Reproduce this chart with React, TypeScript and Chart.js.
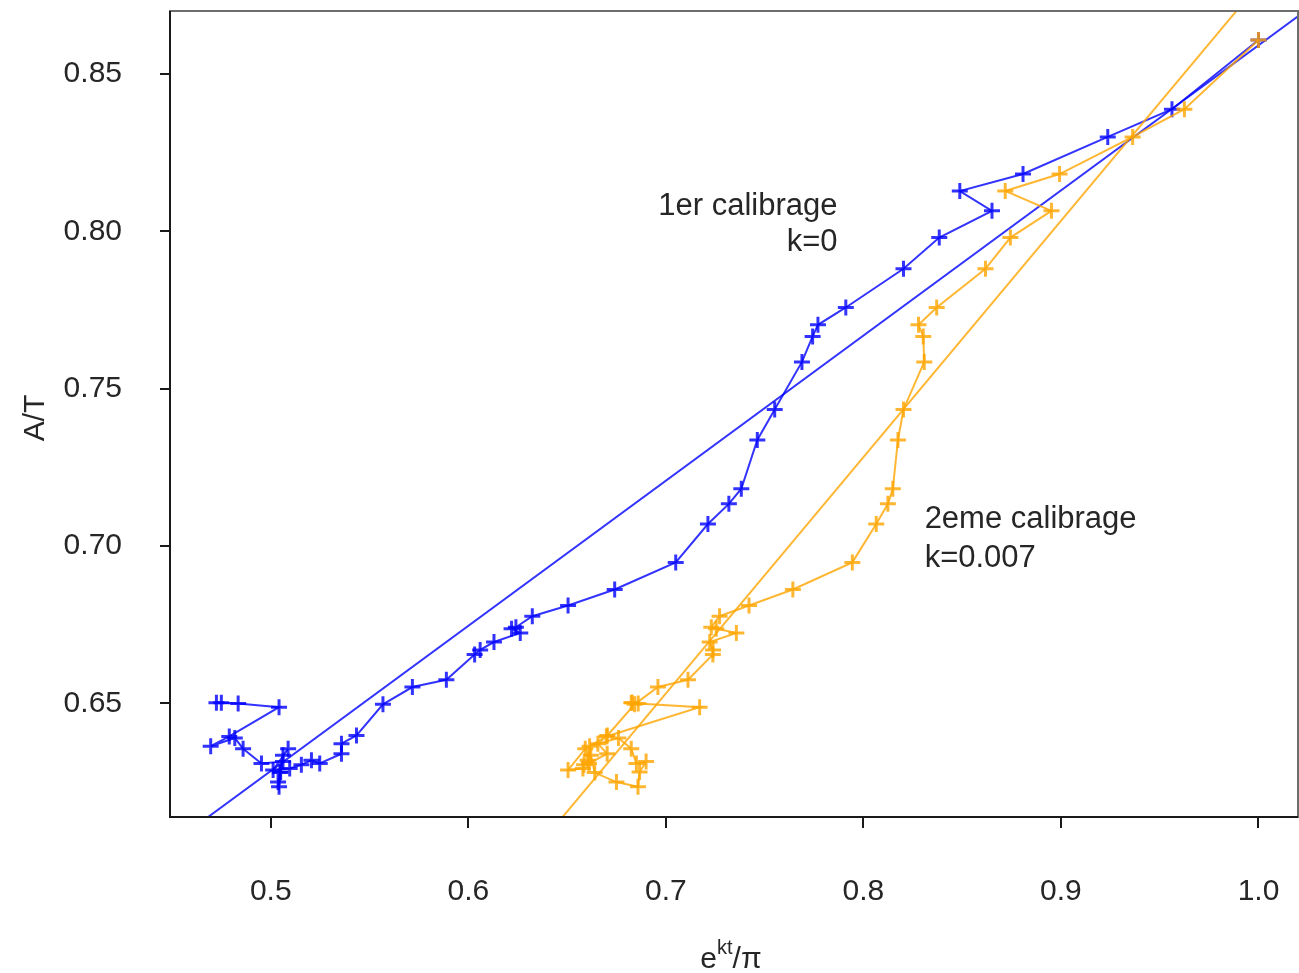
import React, { useEffect, useRef } from "react";
import { Chart, registerables } from "chart.js";

Chart.register(...registerables);

// Shared A/T values (time order, from the last calibration point backwards)
const ratioAT = [
  0.8608, 0.8388, 0.83, 0.8182, 0.8128, 0.8065, 0.798, 0.7881, 0.7758, 0.7703,
  0.7666, 0.7585, 0.7434, 0.7337, 0.7182, 0.7134, 0.707, 0.6948, 0.6862, 0.6811,
  0.6777, 0.6742, 0.6737, 0.6724, 0.6695, 0.667, 0.6655, 0.6575, 0.6552, 0.6497,
  0.6398, 0.6372, 0.634, 0.6309, 0.6319, 0.6305, 0.6293, 0.6288, 0.6356, 0.6335,
  0.628, 0.625, 0.6235, 0.6282, 0.6315, 0.6309, 0.6356, 0.639, 0.6364, 0.6395,
  0.6488, 0.65, 0.6502, 0.6502,
];

// 1er calibrage, k = 0
const calib1X = [
  1.0, 0.9562, 0.9237, 0.8808, 0.8488, 0.8651, 0.8384, 0.8203, 0.7911, 0.777,
  0.7743, 0.7689, 0.7551, 0.7463, 0.7382, 0.7319, 0.7213, 0.705, 0.6741, 0.6505,
  0.6324, 0.6241, 0.6219, 0.6263, 0.613, 0.606, 0.6032, 0.5889, 0.5717, 0.5568,
  0.5434, 0.5358, 0.5358, 0.5248, 0.5206, 0.5155, 0.5096, 0.5012, 0.5088, 0.5062,
  0.5046, 0.5037, 0.5042, 0.505, 0.5062, 0.4953, 0.486, 0.4818, 0.4696, 0.479,
  0.5042, 0.4835, 0.475, 0.4725,
];

// 2eme calibrage, k = 0.007
const calib2X = [
  1.0, 0.9625, 0.9363, 0.8993, 0.8718, 0.8952, 0.8744, 0.8618, 0.8371, 0.8279,
  0.8303, 0.8308, 0.8203, 0.8175, 0.8149, 0.8124, 0.8065, 0.7944, 0.7643, 0.7421,
  0.7272, 0.723, 0.7255, 0.7357, 0.7222, 0.7239, 0.7238, 0.7112, 0.696, 0.6842,
  0.6704, 0.6656, 0.6703, 0.6611, 0.6604, 0.6586, 0.658, 0.6505, 0.6592, 0.662,
  0.664, 0.675, 0.6859, 0.6867, 0.69, 0.6851, 0.6825, 0.676, 0.6614, 0.6699,
  0.7171, 0.686, 0.683, 0.6825,
];

// Fitted lines (end points)
const fit1X = [0.449, 1.02];
const fit1Y = [0.605, 0.8683];
const fit2X = [0.64, 1.0];
const fit2Y = [0.6081, 0.8784];

const xTicks = [0.5, 0.6, 0.7, 0.8, 0.9, 1.0];
const yTicks = [0.65, 0.7, 0.75, 0.8, 0.85];
const xRange = [0.449, 1.02];
const yRange = [0.6139, 0.87];

const notes = [
  { text: "1er calibrage", x: 0.7869, y: 0.8053, align: "right" },
  { text: "k=0", x: 0.7869, y: 0.7936, align: "right" },
  { text: "2eme calibrage", x: 0.831, y: 0.7058, align: "left" },
  { text: "k=0.007", x: 0.831, y: 0.6934, align: "left" },
];

const BLUE = "rgba(0,0,255,0.8)";
const ORANGE = "rgba(255,165,0,0.8)";
const FONT = "'Liberation Sans', Arial, sans-serif";
const TEXT = "#262626";

const pts = (xs: number[], ys: number[]) => xs.map((x, i) => ({ x, y: ys[i] }));

const decor = {
  id: "decor",
  afterDraw(chart: any) {
    const { ctx, chartArea: a, scales } = chart;
    ctx.save();
    // frame
    ctx.strokeStyle = "#6e6e6e";
    ctx.lineWidth = 2;
    ctx.strokeRect(a.left, a.top, a.right - a.left, a.bottom - a.top);
    ctx.strokeStyle = "#1a1a1a";
    ctx.beginPath();
    ctx.moveTo(a.left, a.top);
    ctx.lineTo(a.left, a.bottom);
    ctx.lineTo(a.right, a.bottom);
    ctx.stroke();
    // annotations
    ctx.fillStyle = TEXT;
    ctx.font = `31px ${FONT}`;
    ctx.textBaseline = "alphabetic";
    for (const n of notes) {
      ctx.textAlign = n.align as CanvasTextAlign;
      ctx.fillText(n.text, scales.x.getPixelForValue(n.x), scales.y.getPixelForValue(n.y));
    }
    // y title
    ctx.save();
    ctx.translate(36, (a.top + a.bottom) / 2 + 4);
    ctx.rotate(-Math.PI / 2);
    ctx.textAlign = "center";
    ctx.textBaseline = "middle";
    ctx.font = `30px ${FONT}`;
    ctx.fillText("A/T", 0, 0);
    ctx.restore();
    // x title: e^{kt}/π
    const big = `30px ${FONT}`;
    const small = `20px ${FONT}`;
    ctx.textAlign = "left";
    ctx.font = big;
    const wE = ctx.measureText("e").width;
    const wS = ctx.measureText("/π").width;
    ctx.font = small;
    const wK = ctx.measureText("kt").width;
    const total = wE + wK + wS;
    const cx = 731;
    const base = 968;
    let x0 = cx - total / 2;
    ctx.font = big;
    ctx.fillText("e", x0, base);
    x0 += wE;
    ctx.font = small;
    ctx.fillText("kt", x0, base - 14);
    x0 += wK;
    ctx.font = big;
    ctx.fillText("/π", x0, base);
    ctx.restore();
  },
};

export default function App() {
  const ref = useRef<HTMLCanvasElement | null>(null);

  useEffect(() => {
    if (!ref.current) return;
    const pathStyle = (color: string) => ({
      showLine: true,
      borderColor: color,
      backgroundColor: color,
      borderWidth: 2,
      pointStyle: "cross" as const,
      pointRadius: 8,
      pointBorderWidth: 3,
      pointBorderColor: color,
    });
    const chart = new Chart(ref.current, {
      type: "scatter",
      data: {
        datasets: [
          { ...pathStyle(ORANGE), data: pts(calib2X, ratioAT) },
          { showLine: true, borderColor: ORANGE, borderWidth: 2, pointRadius: 0, data: pts(fit2X, fit2Y) },
          { ...pathStyle(BLUE), data: pts(calib1X, ratioAT) },
          { showLine: true, borderColor: BLUE, borderWidth: 2, pointRadius: 0, data: pts(fit1X, fit1Y) },
        ],
      },
      options: {
        animation: false,
        responsive: false,
        devicePixelRatio: 1,
        layout: { padding: { top: 7, right: 0, left: 0, bottom: 0 } },
        plugins: { legend: { display: false }, tooltip: { enabled: false } },
        scales: {
          x: {
            type: "linear",
            min: xRange[0],
            max: xRange[1],
            afterBuildTicks: (s: any) => {
              s.ticks = xTicks.map((v) => ({ value: v }));
            },
            afterFit: (s: any) => {
              s.height = 156;
              s.paddingLeft = 0;
              s.paddingRight = 0;
              s.paddingTop = 0;
              s.paddingBottom = 0;
            },
            ticks: {
              callback: (v: any) => Number(v).toFixed(1),
              color: TEXT,
              font: { family: FONT, size: 30 },
              padding: 46,
              maxRotation: 0,
              autoSkip: false,
            },
            grid: { drawOnChartArea: false, drawTicks: true, tickLength: 11, color: "#1a1a1a", lineWidth: 2 },
            border: { display: true, color: "#1a1a1a", width: 2 },
          },
          y: {
            type: "linear",
            min: yRange[0],
            max: yRange[1],
            afterBuildTicks: (s: any) => {
              s.ticks = yTicks.map((v) => ({ value: v }));
            },
            afterFit: (s: any) => {
              s.width = 170;
              s.paddingLeft = 0;
              s.paddingRight = 0;
              s.paddingTop = 0;
              s.paddingBottom = 0;
            },
            ticks: {
              callback: (v: any) => Number(v).toFixed(2),
              color: TEXT,
              font: { family: FONT, size: 30 },
              padding: 38,
              autoSkip: false,
            },
            grid: { drawOnChartArea: false, drawTicks: true, tickLength: 10, color: "#1a1a1a", lineWidth: 2 },
            border: { display: true, color: "#1a1a1a", width: 2 },
          },
        },
      },
      plugins: [decor],
    });
    return () => chart.destroy();
  }, []);

  return (
    <div style={{ position: "fixed", left: 0, top: 0, width: 1299, height: 973, overflow: "hidden", background: "#fff" }}>
      <canvas ref={ref} width={1309} height={973} style={{ display: "block" }} />
    </div>
  );
}
